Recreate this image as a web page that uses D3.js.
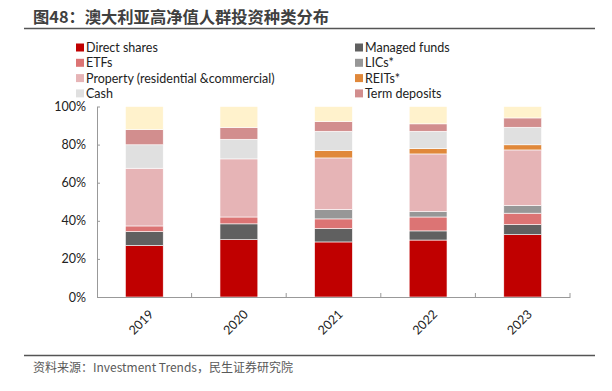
<!DOCTYPE html>
<html>
<head>
<meta charset="utf-8">
<script src="https://cdn.jsdelivr.net/npm/d3@7"></script>
<style>
  body { margin: 0; background: #fff; }
  text { font-family: "Noto Sans CJK SC", "Noto Sans", sans-serif; }
</style>
</head>
<body>
<svg id="chart" width="612" height="391"></svg>
<script>
// values, percent of portfolio
const years = ['2019', '2020', '2021', '2022', '2023'];
const seriesNames = ['Direct shares', 'Managed funds', 'ETFs', 'LICs*', 'Property (residential &commercial)', 'REITs*', 'Cash', 'Term deposits', 'Other'];
const directShares = [27.0, 30.1, 28.9, 29.9, 32.7];
const managedFunds = [7.3, 8.3, 7.0, 4.8, 5.3];
const etfs = [3.0, 3.6, 5.1, 7.3, 6.0];
const lics = [0, 0, 4.9, 2.8, 4.0];
const property = [30.3, 30.5, 27.1, 30.3, 29.2];
const reits = [0, 0, 3.9, 2.8, 2.7];
const cash = [12.3, 10.3, 10.1, 9.1, 9.2];
const termDeposits = [8.0, 6.2, 5.1, 3.9, 4.9];
const other = [12.1, 11.0, 7.9, 9.1, 6.0];
const yTicks = [0, 20, 40, 60, 80, 100];

const colors = {
    'Direct shares': '#c00000',
    'Managed funds': '#606060',
    'ETFs': '#dc7474',
    'LICs*': '#979797',
    'Property (residential &commercial)': '#e6b4b6',
    'REITs*': '#e0883a',
    'Cash': '#e0e0e0',
    'Term deposits': '#d28e8e',
    'Other': '#fff2cc'
};
// legend order: two columns, left then right per row
const legendLeft = ['Direct shares', 'ETFs', 'Property (residential &commercial)', 'Cash'];
const legendRight = ['Managed funds', 'LICs*', 'REITs*', 'Term deposits'];

const table = years.map((y, i) => ({
    year: y,
    'Direct shares': directShares[i],
    'Managed funds': managedFunds[i],
    'ETFs': etfs[i],
    'LICs*': lics[i],
    'Property (residential &commercial)': property[i],
    'REITs*': reits[i],
    'Cash': cash[i],
    'Term deposits': termDeposits[i],
    'Other': other[i]
}));

const svg = d3.select('#chart');
const latin = 'Lato, "Noto Sans", sans-serif';

// title and rules
svg.append('text')
    .attr('x', 33).attr('y', 23)
    .style('font-size', '16.3px').style('font-weight', 'bold').style('fill', '#404040')
    .text('图48：澳大利亚高净值人群投资种类分布');
svg.append('line').attr('x1', 24).attr('x2', 595).attr('y1', 28.5).attr('y2', 28.5)
    .style('stroke', '#555').style('stroke-width', 1.5);
svg.append('line').attr('x1', 24).attr('x2', 595).attr('y1', 355.5).attr('y2', 355.5)
    .style('stroke', '#555').style('stroke-width', 1.5);
svg.append('text')
    .attr('x', 33).attr('y', 372)
    .style('font-size', '12px').style('fill', '#595959')
    .text('资料来源：Investment Trends，民生证券研究院');

// legend
[[legendLeft, 76], [legendRight, 355]].forEach(function(col) {
    col[0].forEach(function(name, i) {
        const cy = 47.5 + i * 15.3;
        svg.append('rect').attr('x', col[1]).attr('y', cy - 4).attr('width', 8).attr('height', 8)
            .style('fill', colors[name]);
        svg.append('text').attr('x', col[1] + 10).attr('y', cy).attr('dy', '0.36em')
            .style('font-family', latin)
            .style('font-size', '12.5px').style('fill', '#222')
            .text(name);
    });
});

// plot
const x = d3.scaleBand().domain(years).range([97, 570]).paddingInner(0.6).paddingOuter(0.3);
const y = d3.scaleLinear().domain([0, 100]).range([297, 106.5]);

const stack = d3.stack().keys(seriesNames);
const layers = stack(table);

svg.append('g').selectAll('g')
    .data(layers)
    .enter()
    .append('g')
        .style('fill', d => colors[d.key])
        .selectAll('rect')
        .data(d => d)
        .enter()
        .append('rect')
            .attr('x', d => x(d.data.year))
            .attr('width', x.bandwidth())
            .attr('y', d => y(d[1]))
            .attr('height', d => y(d[0]) - y(d[1]))
            .style('stroke', '#fff')
            .style('stroke-width', 0.6);

// y axis
const yAxis = svg.append('g')
    .attr('transform', 'translate(97,0)')
    .call(d3.axisLeft(y).tickValues(yTicks).tickFormat(d => d + '%').tickSize(0).tickPadding(11));
yAxis.select('.domain').style('stroke', '#999');
yAxis.selectAll('text').style('font-size', '12.5px').style('fill', '#222')
    .style('font-family', latin);
svg.append('g').selectAll('line').data(yTicks).enter().append('line')
    .attr('x1', 97).attr('x2', 100).attr('y1', d => y(d) + 0.5).attr('y2', d => y(d) + 0.5)
    .style('stroke', '#999');

// x axis
const xAxis = svg.append('g')
    .attr('transform', 'translate(0,297)')
    .call(d3.axisBottom(x).tickSize(0).tickPadding(0));
xAxis.select('.domain').style('stroke', '#999');
xAxis.selectAll('text')
    .style('font-size', '12.5px').style('fill', '#222')
    .style('font-family', latin)
    .attr('text-anchor', 'end')
    .attr('dy', '0.35em')
    .attr('transform', 'translate(7,15) rotate(-45)');
// tick marks between categories
const bounds = years.map(yr => x(yr) + x.bandwidth() / 2 + x.step() / 2);
svg.append('g').selectAll('line').data(bounds).enter().append('line')
    .attr('x1', d => d).attr('x2', d => d).attr('y1', 293).attr('y2', 297)
    .style('stroke', '#999');
</script>
</body>
</html>
